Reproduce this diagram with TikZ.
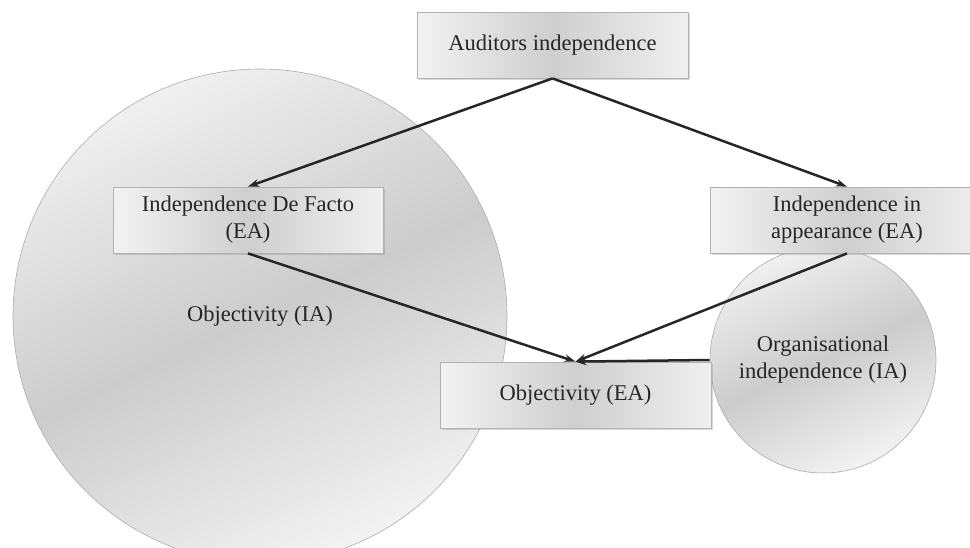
\documentclass[tikz,border=0pt]{standalone}
\usepackage{fontspec}
\setmainfont{Liberation Serif}
\usetikzlibrary{arrows.meta,shadows}

\tikzset{
  facet/.style={rectangle, draw=gray!60, line width=0.8pt, align=center,
    minimum width=271pt, minimum height=66pt, text=black!85,
    left color=gray!10, right color=gray!12, middle color=gray!38,
    drop shadow={shadow xshift=1.5pt, shadow yshift=-1.5pt, opacity=.3}},
  sphere/.style={circle, draw=gray!65, line width=0.6pt, align=center,
    inner sep=0pt, text=black!85,
    top color=gray!12, bottom color=gray!10, middle color=gray!40,
    shading angle=25},
  link/.style={-{Stealth[length=11pt,width=7.5pt]}, line width=2.5pt, draw=black!85}
}

\begin{document}
\begin{tikzpicture}[x=1pt, y=-1pt, font=\fontsize{22.5}{27}\selectfont]

    \useasboundingbox (0,0) rectangle (970,547);

    % Define nodes
    \node[sphere, minimum size=494pt]  (Obj) at (260,316) {Objectivity (IA)};
    \node[sphere, minimum size=226pt]  (OIA) at (823,360) {Organisational\\independence (IA)};

    \node[facet]                       (AI)  at (552.5,45) {Auditors independence};
    \node[facet, minimum width=270pt]  (DF)  at (248,220)  {Independence De Facto\\(EA)};
    \node[facet, minimum width=274pt]  (IiA) at (847,220)  {Independence in\\appearance (EA)};
    \node[facet]                       (OEA) at (575.5,395) {Objectivity (EA)};

    % Connect the nodes
    \foreach \from/\to in {AI/DF, AI/IiA, DF/OEA, IiA/OEA}
      \draw[link] (\from.south) -- (\to.north);
    \draw[link] (OIA.west) -- (OEA.north);

\end{tikzpicture}
\end{document}
